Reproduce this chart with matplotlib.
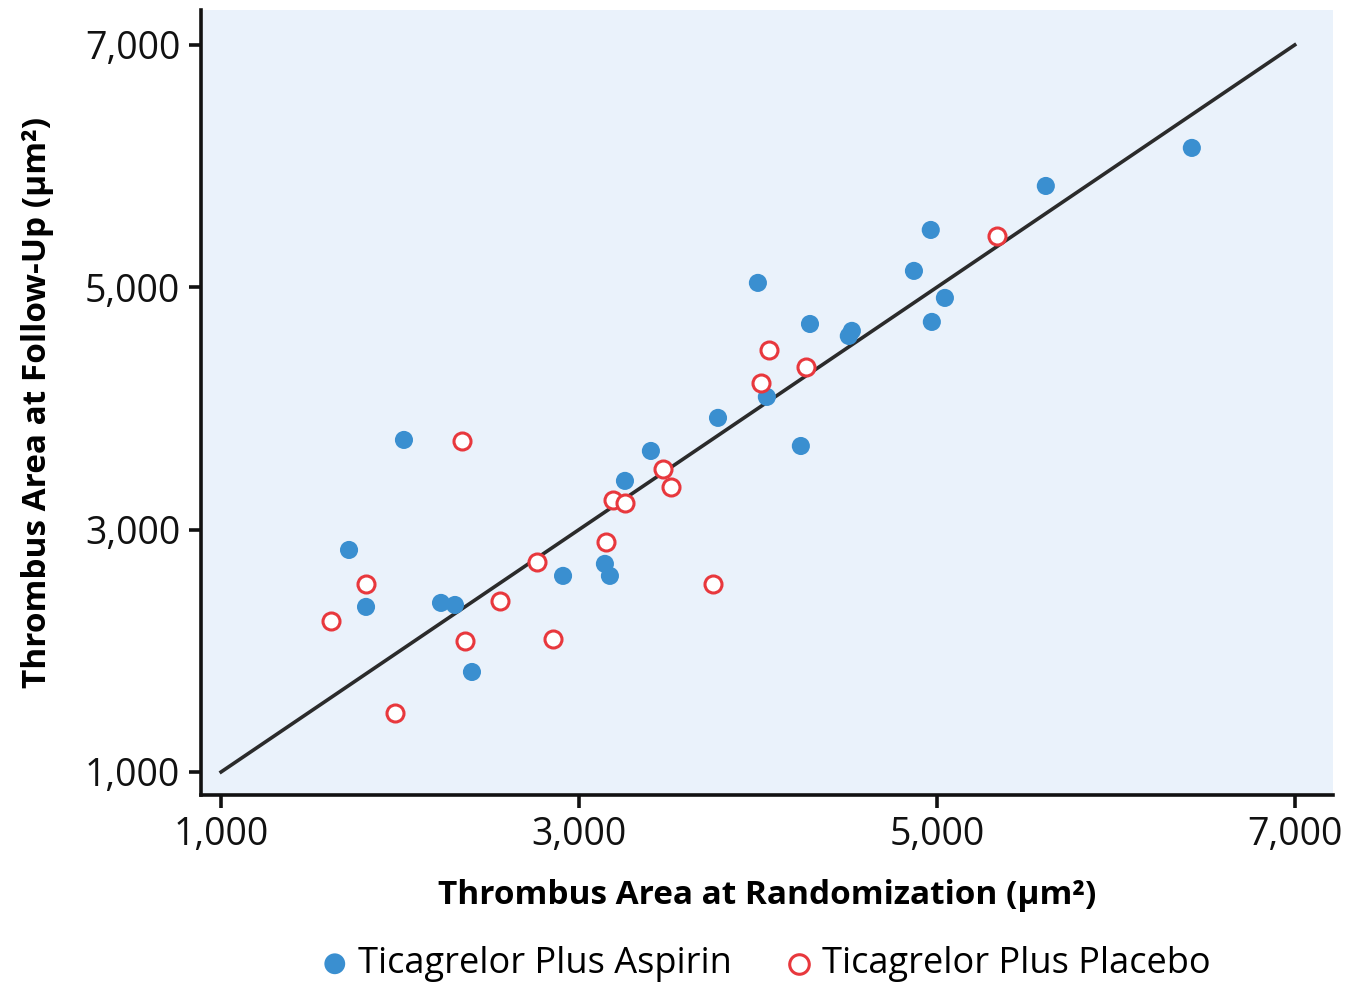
import numpy as np
import matplotlib
matplotlib.use("Agg")
import matplotlib.pyplot as plt
from matplotlib.ticker import FuncFormatter

# Ticagrelor plus aspirin (x = randomization, y = follow-up), um^2
aspirin_x = [2022, 1715, 1810, 2229, 2307, 2402, 2911, 3145, 3173, 3257, 3402, 3777,
             4000, 4050, 4240, 4291, 4508, 4525, 4872, 4966, 4972, 5045, 5609, 6425]
aspirin_y = [3740, 2832, 2362, 2395, 2378, 1825, 2618, 2717, 2618, 3402, 3649, 3922,
             5036, 4095, 3690, 4697, 4598, 4640, 5135, 5473, 4714, 4912, 5836, 6150]

# Ticagrelor plus placebo
placebo_x = [1615, 1810, 1972, 2346, 2363, 2559, 2765, 2855, 3151, 3190, 3257, 3469,
             3514, 3749, 4017, 4061, 4268, 5335]
placebo_y = [2246, 2552, 1487, 3732, 2081, 2411, 2733, 2098, 2898, 3245, 3220, 3501,
             3352, 2552, 4210, 4483, 4342, 5424]

ticks = [1000, 3000, 5000, 7000]

plt.rcParams["font.family"] = ["Open Sans", "DejaVu Sans"]

blue = "#3a8fd0"
red = "#e8383d"

fig = plt.figure(figsize=(13.52, 9.9), dpi=100)
ax = fig.add_axes([0.1487, 0.197, 0.837, 0.793])
ax.set_facecolor("#eaf2fb")

ax.plot([1000, 7000], [1000, 7000], color="#2b2b2b", lw=2.6, zorder=2)
ax.scatter(aspirin_x, aspirin_y, s=170, color=blue, edgecolor="none", zorder=3,
           label="Ticagrelor Plus Aspirin")
ax.scatter(placebo_x, placebo_y, s=150, facecolor="white", edgecolor=red, linewidth=2.2,
           zorder=4, label="Ticagrelor Plus Placebo")

ax.set_xlim(888, 7212)
ax.set_ylim(810, 7289)
ax.set_xticks(ticks)
ax.set_yticks(ticks)
fmt = FuncFormatter(lambda v, p: f"{int(v):,}")
ax.xaxis.set_major_formatter(fmt)
ax.yaxis.set_major_formatter(fmt)

for s in ["top", "right"]:
    ax.spines[s].set_visible(False)
for s in ["left", "bottom"]:
    ax.spines[s].set_linewidth(2.6)
    ax.spines[s].set_color("#111111")
ax.tick_params(length=9, width=2.6, labelsize=27, colors="#111111", pad=6)

ax.set_xlabel("Thrombus Area at Randomization (μm²)", fontsize=24, fontweight="bold",
              labelpad=18)
ax.set_ylabel("Thrombus Area at Follow-Up (μm²)", fontsize=24, fontweight="bold",
              labelpad=22)

fig.legend(loc="lower center", bbox_to_anchor=(0.567, -0.025), ncol=2, frameon=False,
           fontsize=26, handlelength=0.7, handletextpad=0.3, columnspacing=1.5,
           markerscale=1.15)

fig.savefig("out.png", dpi=100)
